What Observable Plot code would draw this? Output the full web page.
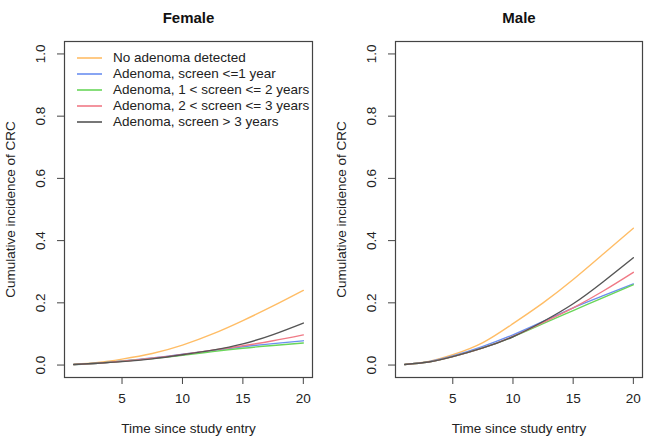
<!DOCTYPE html>
<html>
<head>
<meta charset="utf-8">
<script src="https://cdn.jsdelivr.net/npm/d3@7"></script>
<script src="https://cdn.jsdelivr.net/npm/@observablehq/plot@0.6"></script>
<style>
  html, body { margin: 0; padding: 0; background: #fff; }
  #wrap { position: relative; width: 645px; height: 445px; font-family: "Liberation Sans", Arial, sans-serif; }
  .panel { position: absolute; top: 0; }
  #legend { position: absolute; left: 77px; top: 50px; font-size: 13.5px; color: #222; line-height: 16px; }
  #legend .row { display: flex; align-items: center; height: 16px; }
  #legend svg { margin-right: 11px; }
</style>
</head>
<body>
<div id="wrap">
  <div class="panel" id="female" style="left:0"></div>
  <div class="panel" id="male" style="left:322px"></div>
  <div id="legend"></div>
</div>
<script>
// ---- data ----
const times = [1, 3, 5, 7.5, 10, 12.5, 15, 17.5, 20];
const seriesNames = [
  "No adenoma detected",
  "Adenoma, screen <=1 year",
  "Adenoma, 1 < screen <= 2 years",
  "Adenoma, 2 < screen <= 3 years",
  "Adenoma, screen > 3 years"
];
const seriesColors = ["#ffbd66", "#6b8ff0", "#6ad65a", "#f07a86", "#555555"];

const femaleNone   = [0.002, 0.008, 0.019, 0.037, 0.064, 0.100, 0.143, 0.190, 0.240];
const femaleLe1    = [0.002, 0.006, 0.013, 0.023, 0.035, 0.047, 0.059, 0.069, 0.078];
const female1to2   = [0.002, 0.006, 0.012, 0.021, 0.031, 0.043, 0.054, 0.063, 0.071];
const female2to3   = [0.002, 0.006, 0.012, 0.022, 0.034, 0.048, 0.062, 0.078, 0.097];
const femaleGt3    = [0.002, 0.006, 0.011, 0.020, 0.033, 0.048, 0.068, 0.098, 0.135];

const maleNone     = [0.002, 0.012, 0.033, 0.072, 0.133, 0.200, 0.275, 0.357, 0.440];
const maleLe1      = [0.002, 0.011, 0.029, 0.060, 0.097, 0.140, 0.184, 0.223, 0.261];
const male1to2     = [0.002, 0.010, 0.027, 0.055, 0.091, 0.133, 0.175, 0.217, 0.258];
const male2to3     = [0.002, 0.010, 0.027, 0.055, 0.092, 0.137, 0.184, 0.238, 0.298];
const maleGt3      = [0.002, 0.010, 0.027, 0.055, 0.091, 0.140, 0.197, 0.268, 0.345];

const xTicks = [5, 10, 15, 20];
const yTicks = [0, 0.2, 0.4, 0.6, 0.8, 1.0];
const xLabel = "Time since study entry";
const yLabel = "Cumulative incidence of CRC";

function rows(seriesArrays) {
  const out = [];
  seriesArrays.forEach((vals, i) => {
    vals.forEach((v, j) => out.push({t: times[j], v, s: seriesNames[i]}));
  });
  return out;
}

const femaleData = rows([femaleNone, femaleLe1, female1to2, female2to3, femaleGt3]);
const maleData = rows([maleNone, maleLe1, male1to2, male2to3, maleGt3]);

function panel(title, data, width, marginLeft, marginRight) {
  return Plot.plot({
    width, height: 445,
    marginTop: 41, marginBottom: 68, marginLeft, marginRight,
    style: {fontFamily: "'Liberation Sans', Arial, sans-serif", fontSize: "13px", color: "#222", overflow: "visible"},
    x: {domain: [0.24, 20.76], axis: null},
    y: {domain: [-0.04, 1.04], axis: null},
    color: {domain: seriesNames, range: seriesColors},
    marks: [
      Plot.axisX(xTicks, {tickSize: 7, tickFormat: () => "", stroke: "#444", label: null}),
      Plot.axisY(yTicks, {tickSize: 7, tickFormat: () => "", stroke: "#444", label: null}),
      Plot.text(xTicks, {x: d => d, frameAnchor: "bottom", dy: 25, fontSize: 13.5, fill: "#222"}),
      Plot.text(yTicks, {y: d => d, text: d3.format(".1f"), frameAnchor: "left", dx: -24, rotate: -90, textAnchor: "middle", lineAnchor: "middle", fontSize: 13.5, fill: "#222"}),
      Plot.text([xLabel], {frameAnchor: "bottom", dy: 55, fontSize: 13.5, fill: "#222"}),
      Plot.text([yLabel], {frameAnchor: "left", dx: -54, rotate: -90, textAnchor: "middle", lineAnchor: "middle", fontSize: 13.5, fill: "#222"}),
      Plot.text([title], {frameAnchor: "top", dy: -29, fontSize: 15, fontWeight: "bold", fill: "#111"}),
      Plot.line(data, {x: "t", y: "v", z: "s", stroke: "s", strokeWidth: 1.4, curve: "natural"}),
      Plot.frame({stroke: "#444", strokeWidth: 1.2})
    ]
  });
}

document.getElementById("female").appendChild(panel("Female", femaleData, 322, 64, 10));
document.getElementById("male").appendChild(panel("Male", maleData, 323, 73, 3));

// legend (HTML overlay inside the female panel)
const legend = document.getElementById("legend");
seriesNames.forEach((name, i) => {
  const row = document.createElement("div");
  row.className = "row";
  row.innerHTML = `<svg width="25" height="4"><line x1="0" x2="25" y1="2" y2="2" stroke="${seriesColors[i]}" stroke-width="1.6"/></svg><span>${name.replace(/</g, "&lt;").replace(/>/g, "&gt;")}</span>`;
  legend.appendChild(row);
});
</script>
</body>
</html>
